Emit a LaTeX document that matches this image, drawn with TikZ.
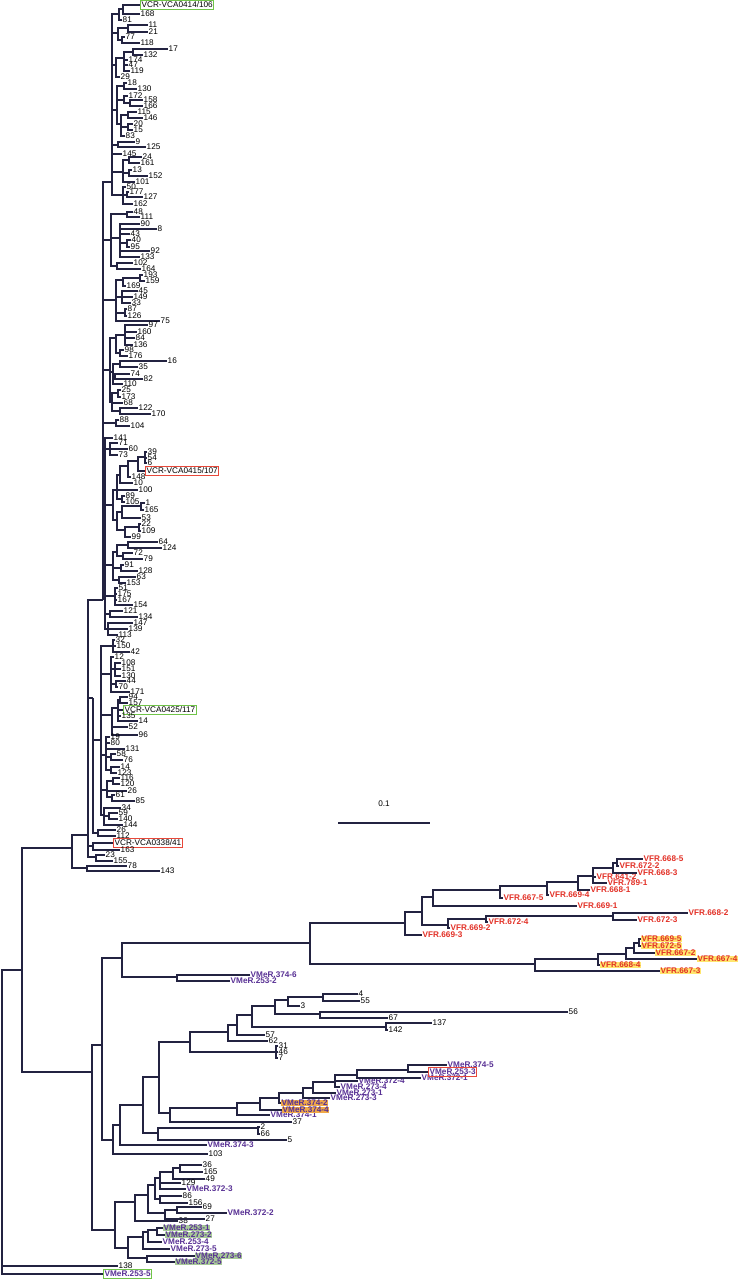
\documentclass[tikz,border=0pt]{standalone}
\usepackage{fontspec}
\setmainfont{Liberation Sans}
\definecolor{treeline}{RGB}{35,35,65}
\definecolor{vfrred}{RGB}{226,48,38}
\definecolor{vmerpurple}{RGB}{88,48,148}
\definecolor{hiyellow}{RGB}{255,230,110}
\definecolor{hiorange}{RGB}{240,168,72}
\definecolor{higreen}{RGB}{168,202,152}
\definecolor{boxgreen}{RGB}{112,196,72}
\definecolor{boxred}{RGB}{232,72,58}
\tikzset{
  branch/.style={draw=treeline, line width=0.33mm},
  num/.style={anchor=west, inner sep=0.4pt, font=\fontsize{7}{7}\selectfont},
  vfr/.style={num, text=vfrred, font=\fontsize{7}{7}\selectfont\bfseries},
  vmer/.style={num, text=vmerpurple, font=\fontsize{7}{7}\selectfont\bfseries},
  boxg/.style={num, inner sep=1pt, draw=boxgreen, line width=0.3mm},
  boxr/.style={num, inner sep=1pt, draw=boxred, line width=0.3mm},
}
\newcommand{\innode}[3]{\coordinate (#1) at (#3); \draw[branch] (#2) |- (#1);}
\newcommand{\tipnode}[5][num]{\node[#1] (#2) at (#4) {#5}; \draw[branch] (#3) |- (#2);}
\begin{document}
\begin{tikzpicture}[x=0.3mm, y=-0.3mm]
\useasboundingbox (0,0) rectangle (747,1280);
\coordinate (R) at (2,1120);
\innode{A}{R}{22,970}
\tipnode{t138}{R}{118,1266}{138}
\tipnode[vmer, draw=boxgreen, line width=0.3mm, inner sep=1pt]{vm2535}{R}{103,1274}{VMeR.253-5}

\innode{U}{A}{72,848}
\innode{U1}{U}{88,835}
\innode{T78}{U}{87,868}
\tipnode{t78}{T78}{127,866}{78}
\tipnode{t143}{T78}{160,871}{143}
\innode{T0338}{U1}{93,846}
\tipnode[boxr]{VCR0338}{T0338}{113,843}{VCR-VCA0338/41}
\tipnode{t163}{T0338}{120,850}{163}
\innode{T23}{U1}{96,857}
\tipnode{t23}{T23}{105,855}{23}
\tipnode{t155}{T23}{113,861}{155}
\innode{W}{U1}{103,600}
\innode{V2}{U1}{93,698}

\innode{TOP}{W}{112,182}
\innode{g1}{TOP}{119,14}
\innode{g1a}{g1}{123,9}
\tipnode[boxg]{VCR0414}{g1a}{140,5}{VCR-VCA0414/106}
\tipnode{t168}{g1a}{140,14}{168}
\tipnode{t81}{g1}{122,20}{81}
\innode{g2}{TOP}{118,33}
\innode{g2a}{g2}{128,28}
\tipnode{t11}{g2a}{148,25}{11}
\tipnode{t21}{g2a}{148,32}{21}
\innode{g2b}{g2}{122,40}
\tipnode{t77}{g2b}{125,37}{77}
\tipnode{t118}{g2b}{140,43}{118}
\innode{g3}{TOP}{116,65}
\innode{g3a}{g3}{124,58}
\innode{g3b}{g3a}{133,52}
\tipnode{t17}{g3b}{168,49}{17}
\tipnode{t132}{g3b}{143,55}{132}
\tipnode{t174}{g3a}{128,60}{174}
\tipnode{t47}{g3a}{128,65}{47}
\tipnode{t119}{g3a}{130,71}{119}
\tipnode{t29}{g3}{120,77}{29}
\innode{g4}{TOP}{117,110}
\innode{g4a}{g4}{124,86}
\tipnode{t18}{g4a}{127,83}{18}
\tipnode{t130a}{g4a}{137,89}{130}
\innode{g4b}{g4}{124,100}
\tipnode{t172}{g4b}{128,96}{172}
\innode{g4c}{g4b}{130,103}
\tipnode{t158}{g4c}{143,100}{158}
\tipnode{t166}{g4c}{143,106}{166}
\innode{g4d}{g4}{121,124}
\innode{g4e}{g4d}{128,115}
\tipnode{t115}{g4e}{137,112}{115}
\tipnode{t146}{g4e}{143,118}{146}
\innode{g4f}{g4d}{128,127}
\tipnode{t20}{g4f}{133,124}{20}
\tipnode{t15}{g4f}{133,130}{15}
\tipnode{t83}{g4d}{125,136}{83}
\innode{g5}{TOP}{118,145}
\tipnode{t9}{g5}{135,142}{9}
\tipnode{t125}{g5}{146,147}{125}
\tipnode{t145}{TOP}{122,154}{145}
\innode{g6}{TOP}{123,172}
\innode{g6a}{g6}{129,160}
\tipnode{t24}{g6a}{142,157}{24}
\tipnode{t161}{g6a}{140,163}{161}
\innode{g6b}{g6}{129,173}
\tipnode{t13}{g6b}{132,170}{13}
\tipnode{t152}{g6b}{148,176}{152}
\tipnode{t101}{g6}{135,182}{101}
\innode{g7}{TOP}{123,195}
\tipnode{t50}{g7}{126,187}{50}
\innode{g7a}{g7}{127,195}
\tipnode{t177}{g7a}{129,192}{177}
\tipnode{t127}{g7a}{143,197}{127}
\tipnode{t162}{g7}{133,204}{162}

\innode{W2}{W}{111,240}
\innode{g8}{W2}{127,214}
\tipnode{t48}{g8}{133,212}{48}
\tipnode{t111}{g8}{140,217}{111}
\innode{g9}{W2}{120,238}
\tipnode{t90}{g9}{140,224}{90}
\tipnode{t8}{g9}{157,229}{8}
\tipnode{t43}{g9}{130,234}{43}
\innode{g9a}{g9}{127,243}
\tipnode{t40}{g9a}{131,240}{40}
\tipnode{t95}{g9a}{130,247}{95}
\tipnode{t92}{g9}{150,251}{92}
\tipnode{t133}{g9}{140,257}{133}
\innode{g10}{W2}{117,266}
\tipnode{t102}{g10}{133,263}{102}
\tipnode{t164}{g10}{141,269}{164}
\innode{W3}{W}{116,300}
\innode{g11}{W3}{123,280}
\innode{g11a}{g11}{140,278}
\tipnode{t193}{g11a}{143,275}{193}
\tipnode{t159}{g11a}{145,281}{159}
\tipnode{t169}{g11}{126,286}{169}
\innode{g12}{W3}{122,297}
\tipnode{t45}{g12}{138,291}{45}
\tipnode{t149}{g12}{133,297}{149}
\tipnode{t33}{g12}{131,303}{33}
\innode{g13}{W3}{125,313}
\tipnode{t87}{g13}{127,309}{87}
\tipnode{t126}{g13}{127,316}{126}
\tipnode{t75}{W3}{160,321}{75}
\innode{W4}{W}{110,370}
\innode{g14}{W4}{116,338}
\innode{g14a}{g14}{125,335}
\tipnode{t97}{g14a}{148,325}{97}
\tipnode{t160}{g14a}{137,332}{160}
\tipnode{t84}{g14a}{135,338}{84}
\tipnode{t136}{g14a}{133,345}{136}
\innode{g14b}{g14}{120,353}
\tipnode{t98}{g14b}{124,350}{98}
\tipnode{t176}{g14b}{128,356}{176}
\innode{g15}{W4}{113,372}
\innode{g15a}{g15}{120,364}
\tipnode{t16}{g15a}{167,361}{16}
\tipnode{t35}{g15a}{138,367}{35}
\innode{g15b}{g15}{115,377}
\tipnode{t74}{g15b}{130,374}{74}
\tipnode{t82}{g15b}{143,379}{82}
\tipnode{t110}{g15}{123,384}{110}
\innode{g16}{W4}{112,402}
\innode{g16a}{g16}{118,393}
\tipnode{t25}{g16a}{121,390}{25}
\tipnode{t173}{g16a}{121,397}{173}
\tipnode{t68}{g16}{123,403}{68}
\innode{g16b}{g16}{120,411}
\tipnode{t122}{g16b}{138,408}{122}
\tipnode{t170}{g16b}{151,414}{170}
\innode{g17}{W}{116,423}
\tipnode{t88}{g17}{119,420}{88}
\tipnode{t104}{g17}{130,426}{104}

\innode{VLa}{W}{105,540}
\tipnode{t141}{VLa}{113,438}{141}
\innode{h2}{VLa}{110,449}
\tipnode{t71}{h2}{118,443}{71}
\tipnode{t60}{h2}{128,449}{60}
\tipnode{t73}{h2}{118,455}{73}
\innode{H}{VLa}{113,505}
\innode{h3}{H}{117,490}
\innode{h3a}{h3}{120,475}
\innode{h3b}{h3a}{128,466}
\innode{h3c}{h3b}{138,461}
\innode{h3d}{h3c}{145,457}
\tipnode{t39}{h3d}{147,452}{39}
\tipnode{t54}{h3d}{147,458}{54}
\tipnode{t6}{h3d}{147,463}{6}
\tipnode[boxr]{VCR0415}{h3c}{145,471}{VCR-VCA0415/107}
\tipnode{t148}{h3b}{131,477}{148}
\tipnode{t10}{h3a}{133,483}{10}
\tipnode{t100}{h3}{138,490}{100}
\innode{h3e}{h3}{122,499}
\tipnode{t89}{h3e}{125,496}{89}
\tipnode{t105}{h3e}{125,502}{105}
\innode{H1}{H}{117,520}
\innode{h4}{H1}{122,512}
\innode{h4a}{h4}{141,506}
\tipnode{t1}{h4a}{145,503}{1}
\tipnode{t165}{h4a}{144,510}{165}
\tipnode{t53}{h4}{141,518}{53}
\innode{h5}{H1}{125,530}
\innode{h5a}{h5}{139,527}
\tipnode{t22}{h5a}{141,524}{22}
\tipnode{t109}{h5a}{141,531}{109}
\tipnode{t99}{h5}{131,537}{99}
\innode{I}{VLa}{113,565}
\innode{I1}{I}{117,552}
\innode{i1}{I1}{128,545}
\tipnode{t64}{i1}{158,542}{64}
\tipnode{t124}{i1}{162,548}{124}
\innode{i2}{I1}{123,556}
\tipnode{t72}{i2}{133,553}{72}
\tipnode{t79}{i2}{143,559}{79}
\innode{i3}{I}{121,568}
\tipnode{t91}{i3}{124,565}{91}
\tipnode{t128}{i3}{138,571}{128}
\innode{i4}{I}{119,580}
\tipnode{t63}{i4}{136,577}{63}
\tipnode{t153}{i4}{126,583}{153}
\innode{j1}{VLa}{115,596}
\tipnode{t51}{j1}{118,588}{51}
\tipnode{t175}{j1}{117,594}{175}
\tipnode{t167}{j1}{117,600}{167}
\tipnode{t154}{j1}{133,605}{154}
\innode{j2}{VLa}{110,614}
\tipnode{t121}{j2}{123,611}{121}
\tipnode{t134}{j2}{138,617}{134}
\innode{j3}{VLa}{108,629}
\tipnode{t147}{j3}{133,623}{147}
\tipnode{t139}{j3}{128,629}{139}
\tipnode{t113}{j3}{118,635}{113}

\innode{VLb}{V2}{101,740}
\innode{k1}{VLb}{113,646}
\tipnode{t32}{k1}{115,640}{32}
\tipnode{t150}{k1}{116,646}{150}
\tipnode{t42}{k1}{130,652}{42}
\innode{r11}{VLb}{111,674}
\tipnode{t12}{r11}{114,657}{12}
\innode{r11a}{r11}{115,669}
\tipnode{t108}{r11a}{121,663}{108}
\tipnode{t151}{r11a}{121,669}{151}
\tipnode{t130b}{r11a}{121,676}{130}
\innode{r11b}{r11}{116,684}
\tipnode{t44}{r11b}{126,681}{44}
\tipnode{t70}{r11b}{118,687}{70}
\tipnode{t171}{r11}{130,692}{171}
\innode{m1}{VLb}{112,715}
\innode{m1a}{m1}{118,708}
\innode{m1b}{m1a}{120,700}
\tipnode{t94}{m1b}{128,697}{94}
\tipnode{t157}{m1b}{128,703}{157}
\tipnode[boxg]{VCR0425}{m1a}{123,710}{VCR-VCA0425/117}
\tipnode{t135}{m1a}{121,716}{135}
\tipnode{t14a}{m1a}{138,721}{14}
\tipnode{t52}{m1}{128,727}{52}
\tipnode{t96}{m1}{138,735}{96}
\innode{r2}{VLb}{106,755}
\tipnode{t19}{r2}{110,737}{19}
\tipnode{t80}{r2}{110,743}{80}
\tipnode{t131}{r2}{125,749}{131}
\innode{r2a}{r2}{111,757}
\tipnode{t58}{r2a}{116,754}{58}
\tipnode{t76}{r2a}{123,760}{76}
\innode{r2b}{r2}{111,770}
\tipnode{t14b}{r2b}{120,767}{14}
\tipnode{t123}{r2b}{117,773}{123}
\innode{o1}{VLb}{107,790}
\innode{o1a}{o1}{113,781}
\tipnode{t116}{o1a}{120,778}{116}
\tipnode{t120}{o1a}{120,784}{120}
\tipnode{t26a}{o1}{127,791}{26}
\innode{o1b}{o1}{112,797}
\tipnode{t61}{o1b}{115,795}{61}
\tipnode{t85}{o1b}{135,801}{85}
\innode{p1}{VLb}{104,815}
\tipnode{t34}{p1}{121,808}{34}
\innode{p1a}{p1}{109,816}
\tipnode{t59}{p1a}{118,813}{59}
\tipnode{t140}{p1a}{118,819}{140}
\tipnode{t144}{p1}{123,825}{144}
\innode{q1}{V2}{98,833}
\tipnode{t26b}{q1}{116,830}{26}
\tipnode{t112}{q1}{116,836}{112}

\coordinate (sbL) at (338,823);
\coordinate (sbR) at (430,823);
\draw[branch] (sbL) -- (sbR);
\node[num, anchor=center] (sblab) at (384,804) {0.1};

\innode{L}{A}{92,1072}
\innode{P}{L}{102,1045}
\innode{Q}{P}{122,958}
\innode{X}{Q}{310,943}
\innode{fA}{X}{405,923}
\innode{fB}{fA}{422,912}
\tipnode[vfr]{vf6693}{fA}{422,935}{VFR.669-3}
\innode{fC}{fB}{433,897}
\innode{fD}{fC}{500,890}
\tipnode[vfr]{vf6691}{fC}{577,906}{VFR.669-1}
\innode{fH}{fD}{547,886}
\tipnode[vfr]{vf6675}{fD}{503,898}{VFR.667-5}
\innode{fI}{fH}{578,882}
\tipnode[vfr]{vf6694}{fH}{549,895}{VFR.669-4}
\innode{fK}{fI}{593,876}
\tipnode[vfr]{vf6681}{fI}{590,890}{VFR.668-1}
\innode{fJ}{fK}{613,868}
\tipnode[vfr]{vf6412}{fK}{596,877}{VFR.641-2}
\tipnode[vfr]{vf7891}{fK}{607,883}{VFR.789-1}
\innode{fJ2}{fJ}{617,863}
\tipnode[vfr]{vf6683}{fJ}{637,873}{VFR.668-3}
\tipnode[vfr]{vf6685}{fJ2}{643,859}{VFR.668-5}
\tipnode[vfr]{vf6722}{fJ2}{619,866}{VFR.672-2}
\innode{fE}{fB}{448,925}
\innode{fF}{fE}{486,919}
\tipnode[vfr]{vf6692}{fE}{450,928}{VFR.669-2}
\innode{fG}{fF}{613,916}
\tipnode[vfr]{vf6724}{fF}{488,922}{VFR.672-4}
\tipnode[vfr]{vf6682}{fG}{688,913}{VFR.668-2}
\tipnode[vfr]{vf6723}{fG}{637,920}{VFR.672-3}

\innode{fY1}{X}{535,964}
\innode{fY2}{fY1}{598,959}
\tipnode[vfr, fill=hiyellow]{vf6673}{fY1}{660,971}{VFR.667-3}
\innode{fY3}{fY2}{626,954}
\tipnode[vfr, fill=hiyellow]{vf6684}{fY2}{600,965}{VFR.668-4}
\innode{fY4}{fY3}{634,948}
\tipnode[vfr, fill=hiyellow]{vf6674}{fY3}{697,959}{VFR.667-4}
\innode{fY5}{fY4}{639,943}
\tipnode[vfr, fill=hiyellow]{vf6672}{fY4}{655,953}{VFR.667-2}
\tipnode[vfr, fill=hiyellow]{vf6695}{fY5}{641,939}{VFR.669-5}
\tipnode[vfr, fill=hiyellow]{vf6725}{fY5}{641,946}{VFR.672-5}

\innode{mQ}{Q}{177,977}
\tipnode[vmer]{vm3746}{mQ}{250,975}{VMeR.374-6}
\tipnode[vmer]{vm2532}{mQ}{230,981}{VMeR.253-2}

\innode{N1}{P}{113,1140}
\innode{N2}{N1}{120,1125}
\tipnode{t103}{N1}{208,1154}{103}
\innode{N3}{N2}{143,1105}
\tipnode[vmer]{vm3743}{N2}{207,1145}{VMeR.374-3}
\innode{N4}{N3}{159,1077}
\innode{N5}{N3}{158,1133}
\innode{N6}{N4}{190,1042}
\innode{N7}{N4}{170,1113}
\innode{N8}{N6}{228,1032}
\innode{N9}{N6}{276,1052}
\tipnode{t31}{N9}{278,1046}{31}
\tipnode{t46}{N9}{278,1052}{46}
\tipnode{t7}{N9}{278,1058}{7}
\innode{N10}{N8}{237,1025}
\tipnode{t62}{N8}{268,1041}{62}
\innode{N11}{N10}{252,1015}
\tipnode{t57}{N10}{265,1035}{57}
\innode{N12}{N11}{275,1006}
\innode{N13}{N11}{386,1027}
\tipnode{t137}{N13}{432,1023}{137}
\tipnode{t142}{N13}{388,1030}{142}
\innode{N14}{N12}{288,1000}
\innode{N15}{N12}{320,1014}
\tipnode{t56}{N15}{568,1012}{56}
\tipnode{t67}{N15}{388,1018}{67}
\innode{N16}{N14}{323,997}
\tipnode{t3}{N14}{300,1006}{3}
\tipnode{t4}{N16}{358,994}{4}
\tipnode{t55}{N16}{360,1001}{55}

\innode{N17}{N7}{237,1108}
\tipnode{t37}{N7}{292,1122}{37}
\innode{N18}{N17}{260,1103}
\tipnode[vmer]{vm3741}{N17}{270,1115}{VMeR.374-1}
\innode{N19}{N18}{279,1098}
\tipnode[vmer, fill=hiorange]{vm3744}{N18}{282,1110}{VMeR.374-4}
\innode{N20}{N19}{303,1093}
\tipnode[vmer, fill=hiorange]{vm3742}{N19}{281,1103}{VMeR.374-2}
\innode{N21}{N20}{313,1088}
\tipnode[vmer]{vm2733}{N20}{330,1098}{VMeR.273-3}
\innode{N22}{N21}{335,1082}
\tipnode[vmer]{vm2731}{N21}{336,1093}{VMeR.273-1}
\innode{N23}{N22}{357,1075}
\tipnode[vmer]{vm3724}{N22}{358,1081}{VMeR.372-4}
\tipnode[vmer]{vm2734}{N22}{340,1087}{VMeR.273-4}
\innode{N24}{N23}{408,1070}
\tipnode[vmer]{vm3721}{N23}{421,1078}{VMeR.372-1}
\tipnode[vmer]{vm3745}{N24}{447,1065}{VMeR.374-5}
\tipnode[vmer, draw=boxred, line width=0.3mm, inner sep=1pt]{vm2533}{N24}{428,1072}{VMeR.253-3}
\innode{N25}{N5}{258,1128}
\tipnode{t2}{N25}{260,1127}{2}
\tipnode{t66}{N25}{260,1134}{66}
\tipnode{t5}{N5}{287,1140}{5}

\innode{M}{L}{115,1230}
\innode{M1}{M}{135,1202}
\innode{M2}{M1}{148,1195}
\tipnode{t38}{M1}{178,1221}{38}
\innode{M3}{M2}{155,1185}
\innode{M6}{M2}{165,1213}
\innode{M4}{M3}{160,1178}
\innode{M5}{M3}{160,1199}
\innode{M4a}{M4}{173,1172}
\innode{M4b}{M4a}{180,1168}
\tipnode{t36}{M4b}{202,1165}{36}
\tipnode{t165b}{M4b}{203,1172}{165}
\tipnode{t49}{M4a}{205,1179}{49}
\tipnode{t129}{M4}{181,1183}{129}
\tipnode[vmer]{vm3723}{M4}{186,1189}{VMeR.372-3}
\tipnode{t86}{M5}{182,1196}{86}
\tipnode{t156}{M5}{188,1203}{156}
\innode{M7}{M6}{177,1210}
\tipnode{t69}{M7}{202,1207}{69}
\tipnode[vmer]{vm3722}{M7}{227,1213}{VMeR.372-2}
\tipnode{t27}{M6}{205,1219}{27}
\innode{M8}{M}{128,1248}
\innode{M9}{M8}{143,1237}
\innode{M10}{M9}{148,1232}
\innode{M11}{M10}{157,1230}
\tipnode[vmer, fill=higreen]{vm2531}{M11}{163,1228}{VMeR.253-1}
\tipnode[vmer, fill=higreen]{vm2732}{M11}{165,1235}{VMeR.273-2}
\tipnode[vmer]{vm2534}{M10}{162,1242}{VMeR.253-4}
\tipnode[vmer]{vm2735}{M9}{170,1249}{VMeR.273-5}
\innode{M12}{M8}{147,1258}
\tipnode[vmer, fill=higreen]{vm2736}{M12}{195,1256}{VMeR.273-6}
\tipnode[vmer, fill=higreen]{vm3725}{M12}{175,1262}{VMeR.372-5}
\end{tikzpicture}
\end{document}
